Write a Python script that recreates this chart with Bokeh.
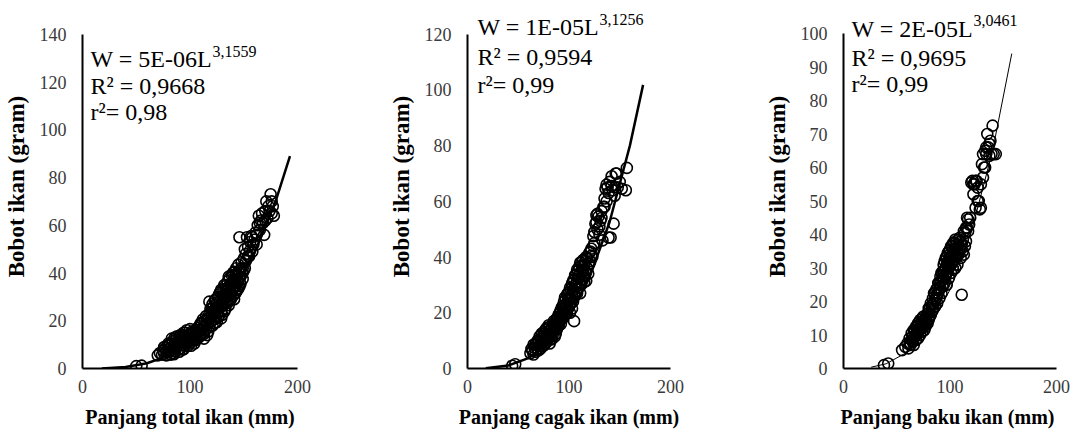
from bokeh.plotting import figure
from bokeh.layouts import row
from bokeh.models import Range1d, FixedTicker, Label
from bokeh.embed import file_html
from bokeh.resources import INLINE

FONT = "Liberation Serif"

# ---------------- data ----------------
# Panel 1: total length (mm) vs weight (g)
L_total = [50, 55, 70, 72, 74, 75, 76, 77, 78, 79, 80, 80, 81, 82, 83, 84, 84, 85, 86, 86,
           87, 88, 88, 89, 90, 90, 91, 92, 92, 93, 94, 94, 95, 96, 96, 97, 98, 98, 99, 100,
           100, 101, 102, 103, 104, 105, 105, 106, 107, 108, 108, 109, 110, 110, 111, 112, 113, 113, 114, 115,
           115, 116, 117, 117, 118, 118, 119, 120, 120, 121, 121, 122, 122, 123, 123, 124, 124, 125, 125, 126,
           126, 127, 127, 128, 128, 129, 129, 130, 130, 131, 131, 132, 132, 133, 133, 134, 134, 135, 135, 136,
           136, 137, 137, 138, 138, 139, 139, 140, 140, 141, 141, 142, 142, 143, 143, 144, 144, 145, 145, 146,
           146, 147, 146, 148, 149, 150, 151, 152, 153, 154, 155, 156, 157, 158, 160, 161, 162, 163, 164, 165,
           166, 167, 168, 169, 170, 171, 172, 173, 175, 176, 178,
           76, 78, 80, 82, 83, 85, 86, 87, 88, 89, 90, 91, 92, 93, 94, 95, 96, 97, 98, 99,
           100, 101, 102, 103, 104, 106, 107, 109, 110, 111, 112, 113, 114, 116, 116, 118, 119, 120, 121, 122,
           123, 124, 125, 126, 127, 128, 129, 129, 130, 131, 132, 133, 134, 135, 135, 136, 137, 137, 138, 139,
           140, 140, 141, 141, 142, 143, 143, 144, 145, 145, 146, 147, 148, 149, 150, 151, 152, 154, 156, 158,
           159, 162, 165, 170, 174, 176, 177]
W_total = [1.0, 1.2, 5.5, 6.5, 5.8, 7.5, 6.2, 8.5, 7.0, 9.5, 6.8, 8.2, 10.0, 7.5, 9.0, 11.5, 6.5, 8.5, 10.5, 7.2,
           12.0, 9.2, 11.0, 7.8, 13.0, 10.2, 8.5, 12.5, 9.8, 14.0, 11.2, 8.0, 13.5, 10.5, 15.0, 12.0, 9.5, 13.8, 11.5, 14.5,
           10.5, 12.5, 15.5, 11.8, 13.5, 16.0, 12.2, 14.5, 17.0, 13.0, 15.8, 18.0, 14.2, 16.5, 19.0, 15.0, 17.5, 12.5, 20.0, 16.5,
           22.0, 18.5, 21.0, 15.5, 23.0, 28.0, 19.5, 22.0, 25.0, 18.0, 24.0, 26.0, 20.5, 23.0, 28.5, 21.5, 25.5, 27.5, 19.5, 23.5,
           30.0, 26.0, 22.0, 28.5, 32.0, 24.0, 27.0, 30.5, 22.5, 33.0, 26.5, 29.0, 35.0, 25.0, 31.0, 33.5, 28.0, 36.5, 30.0, 26.5,
           34.0, 31.5, 38.0, 29.0, 35.5, 33.0, 39.0, 30.5, 36.5, 34.0, 40.5, 31.5, 37.5, 35.0, 42.0, 33.0, 39.0, 36.5, 43.5, 34.5,
           41.0, 38.5, 55.0, 44.5, 40.0, 46.0, 42.0, 48.0, 55.0, 51.0, 47.0, 53.0, 55.5, 49.0, 54.0, 57.0, 52.0, 60.0, 64.0, 58.0,
           62.0, 65.0, 61.0, 56.0, 66.0, 70.0, 63.0, 68.0, 73.0, 65.0, 64.0,
           9.0, 5.5, 10.5, 5.8, 12.5, 6.0, 13.0, 9.8, 13.5, 10.5, 7.0, 14.0, 11.0, 8.0, 15.0, 9.5, 12.5, 16.0, 11.0, 14.0,
           16.5, 9.5, 13.0, 15.0, 10.5, 12.0, 15.0, 13.5, 19.0, 16.0, 20.5, 14.5, 18.0, 21.0, 14.0, 17.5, 25.0, 20.0, 27.0, 23.5,
           19.0, 29.0, 24.5, 21.5, 31.0, 25.5, 33.0, 21.0, 27.5, 30.5, 24.0, 34.5, 30.5, 27.5, 33.0, 38.5, 28.5, 35.0, 31.0, 36.0,
           33.5, 40.0, 29.0, 37.0, 34.5, 39.5, 32.0, 37.0, 33.5, 40.5, 38.0, 35.5, 42.0, 37.5, 41.0, 50.0, 45.0, 47.0, 49.5, 55.0,
           52.0, 56.0, 61.0, 62.0, 66.0, 70.0, 68.0]
curve_L_total = [18, 40, 60, 80, 100, 120, 140, 160, 180, 193]
curve_W_total = [0.05, 0.6, 2.2, 5.4, 11.0, 19.6, 31.8, 48.6, 70.5, 89.0]

# Panel 2: fork length (mm) vs weight (g)
L_fork = [44, 47, 62, 64, 65, 66, 67, 68, 69, 70, 70, 71, 72, 72, 73, 74, 74, 75, 75, 76,
          77, 77, 78, 78, 79, 80, 80, 81, 81, 82, 83, 83, 84, 84, 85, 86, 86, 87, 88, 88,
          89, 90, 90, 91, 92, 92, 93, 94, 94, 95, 95, 96, 96, 97, 97, 98, 98, 99, 99, 100,
          100, 101, 101, 102, 102, 103, 103, 104, 104, 105, 105, 106, 106, 107, 107, 108, 108, 109, 109, 110,
          110, 111, 111, 112, 112, 113, 114, 114, 115, 116, 117, 117, 118, 120, 121, 122, 123, 124, 125, 126,
          127, 128, 129, 130, 131, 132, 133, 134, 135, 136, 137, 138, 139, 140, 141, 142, 143, 144, 145, 146,
          148, 150, 152, 156, 157,
          63, 65, 67, 69, 71, 73, 74, 76, 78, 79, 80, 82, 82, 84, 85, 86, 87, 88, 89, 90,
          91, 92, 93, 94, 95, 96, 97, 98, 99, 100, 101, 102, 103, 104, 105, 106, 107, 108, 109, 110,
          111, 112, 113, 114, 115, 116, 118, 119, 120, 121, 122, 124, 125, 127, 128, 130, 132, 135, 137, 139,
          142, 145, 147]
W_fork = [1.0, 1.5, 5.5, 6.5, 5.0, 7.5, 6.0, 8.5, 7.0, 9.5, 6.5, 8.0, 10.5, 7.2, 9.0, 11.5, 8.0, 13.0, 9.8, 8.5,
          11.0, 14.0, 9.5, 12.2, 10.5, 13.5, 11.0, 15.0, 9.0, 12.5, 14.5, 10.5, 16.0, 12.0, 13.8, 15.5, 11.5, 17.0, 14.0, 16.5,
          18.5, 15.5, 19.5, 17.0, 21.0, 16.0, 19.0, 22.5, 18.0, 20.5, 24.0, 19.5, 22.0, 25.0, 20.5, 23.0, 26.5, 21.5, 24.5, 27.5,
          22.5, 25.5, 20.0, 28.5, 23.5, 26.5, 30.5, 24.0, 28.0, 32.0, 17.0, 26.0, 30.0, 33.5, 27.5, 31.0, 35.5, 29.0, 33.0, 36.5,
          30.5, 34.5, 27.0, 38.0, 32.0, 35.5, 33.5, 39.0, 37.0, 34.5, 40.0, 31.5, 36.0, 41.5, 38.5, 43.0, 40.0, 47.5, 45.0, 52.0,
          55.0, 50.0, 54.5, 48.0, 53.0, 56.5, 46.0, 58.0, 61.0, 64.5, 60.0, 65.0, 47.0, 67.0, 47.0, 69.0, 64.0, 52.0, 62.0, 70.0,
          65.0, 67.0, 64.5, 64.0, 72.0,
          7.0, 8.5, 9.0, 10.0, 11.5, 12.5, 9.5, 12.5, 14.5, 12.0, 15.5, 14.0, 10.5, 13.5, 17.0, 14.5, 12.5, 18.0, 15.0, 17.0,
          20.0, 18.5, 22.0, 20.0, 22.5, 25.5, 22.5, 20.0, 27.0, 24.5, 29.0, 25.0, 21.5, 31.5, 27.0, 33.5, 29.5, 27.0, 35.0, 32.5,
          38.0, 30.0, 37.0, 35.0, 31.0, 38.5, 39.5, 34.0, 37.5, 42.0, 40.5, 44.0, 49.0, 52.5, 55.5, 51.0, 54.0, 58.0, 66.0, 63.0,
          65.5, 65.0, 70.0]
curve_L_fork = [18, 40, 60, 80, 100, 120, 140, 160, 173]
curve_W_fork = [0.08, 1.05, 3.7, 9.2, 18.4, 32.5, 52.6, 80.0, 101.8]

# Panel 3: standard length (mm) vs weight (g)
L_std = [38, 42, 55, 58, 60, 61, 62, 63, 64, 65, 66, 66, 67, 68, 68, 69, 70, 70, 71, 72,
         72, 73, 74, 74, 75, 76, 76, 77, 78, 79, 80, 80, 81, 82, 83, 84, 84, 85, 86, 86,
         87, 88, 88, 89, 90, 90, 91, 91, 92, 92, 93, 93, 94, 94, 95, 95, 96, 96, 97, 97,
         98, 98, 99, 99, 100, 100, 101, 101, 102, 102, 103, 103, 104, 104, 105, 105, 106, 106, 107, 107,
         108, 108, 109, 110, 110, 111, 112, 113, 114, 115, 116, 117, 118, 120, 121, 122, 123, 124, 125, 126,
         127, 128, 129, 130, 131, 132, 133, 134, 135, 136, 137, 138, 140, 141, 143,
         62, 64, 65, 66, 67, 68, 69, 70, 71, 72, 73, 74, 75, 76, 77, 78, 79, 80, 81, 82,
         83, 84, 85, 86, 87, 88, 89, 90, 91, 92, 93, 94, 94, 95, 96, 97, 97, 98, 99, 99,
         100, 101, 101, 102, 103, 103, 104, 105, 105, 106, 107, 108, 109, 110, 111, 112, 113, 114, 115, 116,
         117, 119, 122, 124, 126, 129, 131, 133, 134, 137, 139]
W_std = [1.0, 1.5, 5.5, 6.5, 7.5, 6.0, 9.0, 7.0, 10.5, 8.0, 11.5, 7.0, 9.5, 12.5, 8.5, 10.5, 13.5, 9.0, 11.5, 14.5,
         10.0, 12.5, 15.0, 11.0, 13.0, 14.0, 11.5, 12.5, 15.5, 13.5, 16.5, 14.5, 18.0, 16.0, 19.0, 17.5, 21.0, 19.5, 22.5, 18.5,
         21.0, 24.0, 19.5, 22.5, 25.5, 21.0, 24.0, 27.5, 22.5, 26.0, 29.0, 24.5, 27.0, 31.0, 25.5, 29.5, 33.0, 27.5, 31.0, 25.0,
         34.5, 29.0, 32.5, 27.0, 35.5, 30.5, 33.5, 28.5, 36.5, 31.5, 34.5, 29.5, 37.5, 32.5, 35.5, 30.0, 38.0, 33.5, 36.5, 31.0,
         34.0, 38.5, 36.0, 33.0, 38.0, 22.0, 35.0, 34.0, 40.5, 42.0, 45.0, 41.0, 43.0, 55.5, 56.0, 52.0, 55.0, 48.0, 56.0, 54.0,
         50.0, 47.5, 48.0, 61.0, 57.0, 60.0, 65.0, 64.0, 70.0, 66.0, 63.5, 68.0, 72.5, 64.0, 64.0,
         7.5, 8.5, 9.5, 9.0, 11.0, 10.0, 12.5, 11.0, 13.0, 12.0, 14.0, 13.0, 15.5, 13.0, 15.0, 14.0, 16.5, 18.0, 15.5, 19.5,
         17.0, 19.0, 22.5, 20.5, 23.5, 22.0, 25.5, 23.5, 26.0, 28.5, 27.0, 29.0, 25.0, 32.0, 30.0, 33.5, 28.5, 31.5, 35.0, 30.0,
         33.0, 36.5, 31.0, 34.0, 37.5, 32.0, 35.5, 38.5, 33.5, 36.0, 34.5, 37.0, 39.0, 35.5, 37.0, 38.5, 41.0, 36.5, 38.0, 42.0,
         44.5, 45.0, 55.0, 56.0, 50.0, 55.0, 64.0, 60.0, 66.0, 67.0, 64.0]
curve_L_std = [26, 40, 60, 80, 100, 120, 140, 158]
curve_W_std = [0.4, 1.4, 4.9, 11.8, 23.5, 40.7, 65.0, 94.0]

x_ticks = [0, 100, 200]
y_ticks_1 = [0, 20, 40, 60, 80, 100, 120, 140]
y_ticks_2 = [0, 20, 40, 60, 80, 100, 120]
y_ticks_3 = [0, 10, 20, 30, 40, 50, 60, 70, 80, 90, 100]

eq_main = ["W = 5E-06L", "W = 1E-05L", "W = 2E-05L"]
eq_sup = ["3,1559", "3,1256", "3,0461"]
eq_R2 = ["R\u00b2 = 0,9668", "R\u00b2 = 0,9594", "R\u00b2 = 0,9695"]
eq_r2 = ["r\u00b2= 0,98", "r\u00b2= 0,99", "r\u00b2= 0,99"]

x_titles = ["Panjang total ikan (mm)", "Panjang cagak ikan (mm)", "Panjang baku  ikan (mm)"]
y_title = "Bobot ikan (gram)"

HEIGHT = 432
FRAME_TOP = 4  # frame starts a little above the top tick so the equations are not clipped


def make_panel(L, W, cL, cW, ymax, yticks, xtitle, main, sup, r2a, r2b,
               width, bl, br, data_top, data_bottom, curve_w, offs):
    px_per_unit = (data_bottom - data_top) / ymax
    y_end = ymax + (data_top - FRAME_TOP) / px_per_unit
    p = figure(width=width, height=HEIGHT, output_backend="svg", toolbar_location=None,
               x_range=Range1d(0, 200), y_range=Range1d(0, y_end),
               min_border_left=bl, min_border_right=br, min_border_top=FRAME_TOP,
               min_border_bottom=HEIGHT - data_bottom)
    p.outline_line_color = None
    p.xgrid.visible = False
    p.ygrid.visible = False
    p.background_fill_color = "white"
    p.border_fill_color = "white"

    p.line(cL, cW, line_color="black", line_width=curve_w)
    p.scatter(L, W, marker="circle", size=11, fill_color=None, line_color="black",
              line_width=1.6)

    for ax, ticks in ((p.xaxis[0], x_ticks), (p.yaxis[0], yticks)):
        ax.ticker = FixedTicker(ticks=ticks)
        ax.major_tick_in = 0
        ax.major_tick_out = 0
        ax.minor_tick_line_color = None
        ax.axis_line_color = "black"
        ax.axis_line_width = 2
        ax.major_label_text_font = FONT
        ax.major_label_text_font_size = "18px"
        ax.major_label_text_color = "#3a3a3a"
        ax.axis_label_text_font = FONT
        ax.axis_label_text_font_style = "bold"
        ax.axis_label_text_color = "black"
    p.yaxis.bounds = (0, ymax)
    p.xaxis.axis_label = xtitle
    p.yaxis.axis_label = y_title
    p.xaxis.axis_label_text_font_size = "20px"
    p.yaxis.axis_label_text_font_size = "23px"
    p.xaxis.major_label_standoff = 11
    p.xaxis.axis_label_standoff = 10
    p.yaxis.major_label_standoff = 16
    p.yaxis.axis_label_standoff = 8

    dx, y1, y2, y3 = offs
    for txt, yo in ((main, y1), (r2a, y2), (r2b, y3)):
        p.add_layout(Label(x=0, y=ymax, x_offset=dx, y_offset=yo, text=txt,
                           text_font=FONT, text_font_size="24px", text_color="black",
                           text_baseline="alphabetic", text_align="left"))
    p.add_layout(Label(x=0, y=ymax, x_offset=dx + 122, y_offset=y1 + 8, text=sup,
                       text_font=FONT, text_font_size="16px", text_color="black",
                       text_baseline="alphabetic", text_align="left"))
    return p


p1 = make_panel(L_total, W_total, curve_L_total, curve_W_total, 140, y_ticks_1, x_titles[0],
                eq_main[0], eq_sup[0], eq_R2[0], eq_r2[0],
                380, 80, 83, 34, 370, 2.5, (8, -25, -52, -78))
p2 = make_panel(L_fork, W_fork, curve_L_fork, curve_W_fork, 120, y_ticks_2, x_titles[1],
                eq_main[1], eq_sup[1], eq_R2[1], eq_r2[1],
                380, 87, 90, 34, 372, 2.5, (10, 7, -23, -51))
p3 = make_panel(L_std, W_std, curve_L_std, curve_W_std, 100, y_ticks_3, x_titles[2],
                eq_main[2], eq_sup[2], eq_R2[2], eq_r2[2],
                310, 83, 14, 33, 368, 1.0, (8, 5, -24, -50))

layout = row(p1, p2, p3)
open("out.html", "w").write(file_html(layout, INLINE))
